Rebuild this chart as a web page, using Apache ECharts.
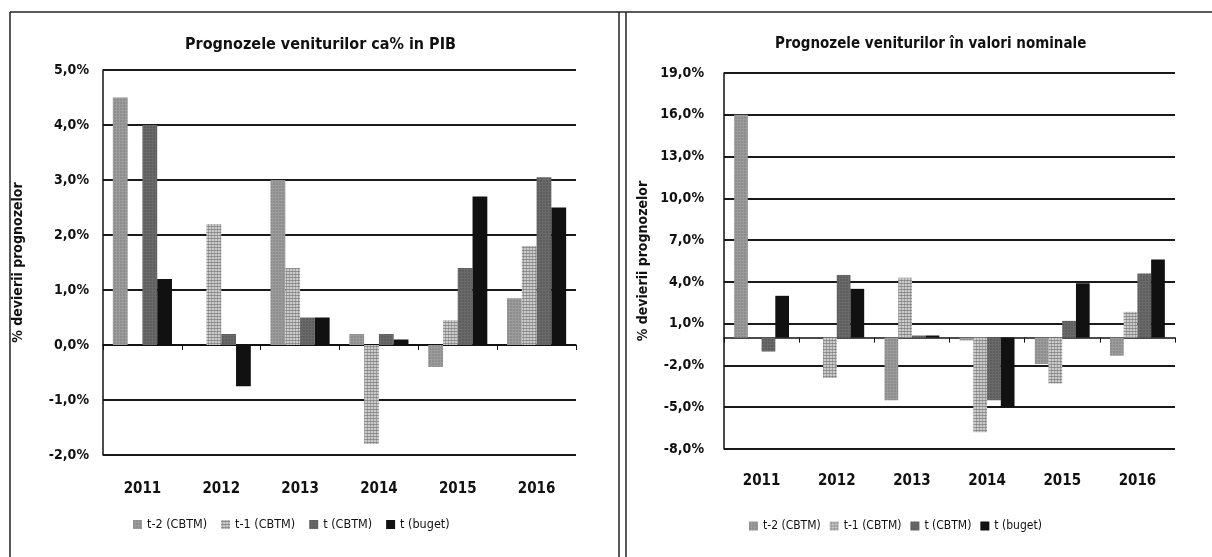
<!DOCTYPE html>
<html>
<head>
<meta charset="utf-8">
<script src="https://cdn.jsdelivr.net/npm/echarts@6/dist/echarts.min.js"></script>
<style>
  html, body { margin: 0; padding: 0; background: #fff; }
  #chart { width: 1212px; height: 557px; }
</style>
</head>
<body>
<div id="chart"></div>
<script>
// years on both charts
const years = ['2011', '2012', '2013', '2014', '2015', '2016'];
const seriesNames = ['t-2 (CBTM)', 't-1 (CBTM)', 't (CBTM)', 't (buget)'];

// left: Prognozele veniturilor ca % in PIB
const pibT2 = [4.5, 0, 3.0, 0.2, -0.4, 0.85];
const pibT1 = [0, 2.2, 1.4, -1.8, 0.45, 1.8];
const pibT = [4.0, 0.2, 0.5, 0.2, 1.4, 3.05];
const pibBuget = [1.2, -0.75, 0.5, 0.1, 2.7, 2.5];

// right: Prognozele veniturilor in valori nominale
const nomT2 = [16.0, 0, -4.5, -0.2, -1.9, -1.3];
const nomT1 = [0, -2.9, 4.3, -6.8, -3.3, 1.85];
const nomT = [-1.0, 4.5, 0.15, -4.5, 1.2, 4.6];
const nomBuget = [3.0, 3.5, 0.15, -5.0, 3.9, 5.6];

const font = "'Liberation Sans Narrow', 'DejaVu Sans Condensed', sans-serif";

// grey scan-like fills
const styles = [
  { color: '#9c9c9c', decal: { symbol: 'rect', symbolSize: 0.6, dashArrayX: [2, 1], dashArrayY: [2, 1], color: 'rgba(50,50,50,0.45)' } },
  { color: '#eeeeee', decal: { symbol: 'circle', symbolSize: 0.9, dashArrayX: [3, 0], dashArrayY: [3, 0], color: 'rgba(0,0,0,0.45)' } },
  { color: '#6a6a6a', decal: { symbol: 'rect', symbolSize: 0.5, dashArrayX: [2, 1], dashArrayY: [2, 1], color: 'rgba(20,20,20,0.5)' } },
  { color: '#111111' }
];

function fmt(v) {
  return v.toFixed(1).replace('.', ',') + '%';
}

function yAx(idx, min, max, interval, gap, margin) {
  return {
    type: 'value', gridIndex: idx, min: min, max: max, interval: interval,
    name: '% devierii prognozelor', nameLocation: 'middle', nameRotate: 90, nameGap: gap,
    nameTextStyle: { fontFamily: font, fontWeight: 'bold', fontSize: 14, color: '#111' },
    axisLine: { show: true, lineStyle: { color: '#111', width: 1.5 } },
    axisTick: { show: false },
    axisLabel: { fontFamily: font, fontWeight: 'bold', fontSize: 14, color: '#111', margin: margin, formatter: fmt },
    splitLine: { lineStyle: { color: '#1a1a1a', width: 1.8 } }
  };
}

function bars(data, xIdx, yIdx, gap) {
  return data.map((d, i) => ({
    name: seriesNames[i], type: 'bar', xAxisIndex: xIdx, yAxisIndex: yIdx,
    data: d, barGap: '0%', barCategoryGap: gap,
    itemStyle: styles[i]
  }));
}

const chart = echarts.init(document.getElementById('chart'));

chart.setOption({
  animation: false,
  backgroundColor: '#fff',
  title: [
    { text: 'Prognozele veniturilor ca% in PIB', left: 180, top: 32,
      textStyle: { fontFamily: font, fontWeight: 'bold', fontSize: 16, color: '#111' } },
    { text: 'Prognozele veniturilor în valori nominale', left: 770, top: 32,
      textStyle: { fontFamily: font, fontWeight: 'bold', fontSize: 15, color: '#111' } }
  ],
  legend: [
    { data: seriesNames, left: 128, top: 513, itemWidth: 9, itemHeight: 9, itemGap: 14, icon: 'rect',
      textStyle: { fontFamily: font, fontSize: 12.5, color: '#111' } },
    { data: seriesNames, left: 744, top: 515, itemWidth: 9, itemHeight: 9, itemGap: 9, icon: 'rect',
      textStyle: { fontFamily: font, fontSize: 12, color: '#111' } }
  ],
  grid: [
    { left: 103, right: 636, top: 70, bottom: 102 },
    { left: 724, right: 37, top: 73, bottom: 108 }
  ],
  xAxis: [
    // zero lines with ticks
    { type: 'category', gridIndex: 0, data: years,
      axisLine: { onZero: true, lineStyle: { color: '#111', width: 1.5 } },
      axisTick: { show: true, length: 5, lineStyle: { color: '#111' } },
      axisLabel: { show: false } },
    { type: 'category', gridIndex: 1, data: years,
      axisLine: { onZero: true, lineStyle: { color: '#111', width: 1.5 } },
      axisTick: { show: true, length: 5, lineStyle: { color: '#111' } },
      axisLabel: { show: false } },
    // labels at the bottom
    { type: 'category', gridIndex: 0, data: years, position: 'bottom',
      axisLine: { show: false, onZero: false }, axisTick: { show: false },
      axisLabel: { fontFamily: font, fontWeight: 'bold', fontSize: 15, color: '#111', margin: 27 } },
    { type: 'category', gridIndex: 1, data: years, position: 'bottom',
      axisLine: { show: false, onZero: false }, axisTick: { show: false },
      axisLabel: { fontFamily: font, fontWeight: 'bold', fontSize: 15, color: '#111', margin: 25 } }
  ],
  yAxis: [
    yAx(0, -2, 5, 1, 78, 14),
    yAx(1, -8, 19, 3, 74, 20)
  ],
  series: [
    ...bars([pibT2, pibT1, pibT, pibBuget], 0, 0, '25%'),
    ...bars([nomT2, nomT1, nomT, nomBuget], 1, 1, '27%')
  ],
  graphic: [
    { type: 'line', shape: { x1: 10, y1: 12, x2: 1212, y2: 12 }, style: { stroke: '#222', lineWidth: 1.5 } },
    { type: 'line', shape: { x1: 10, y1: 12, x2: 10, y2: 557 }, style: { stroke: '#222', lineWidth: 1.5 } },
    { type: 'line', shape: { x1: 619, y1: 12, x2: 619, y2: 557 }, style: { stroke: '#222', lineWidth: 1.5 } },
    { type: 'line', shape: { x1: 626, y1: 12, x2: 626, y2: 557 }, style: { stroke: '#222', lineWidth: 1.5 } }
  ]
});
</script>
</body>
</html>
